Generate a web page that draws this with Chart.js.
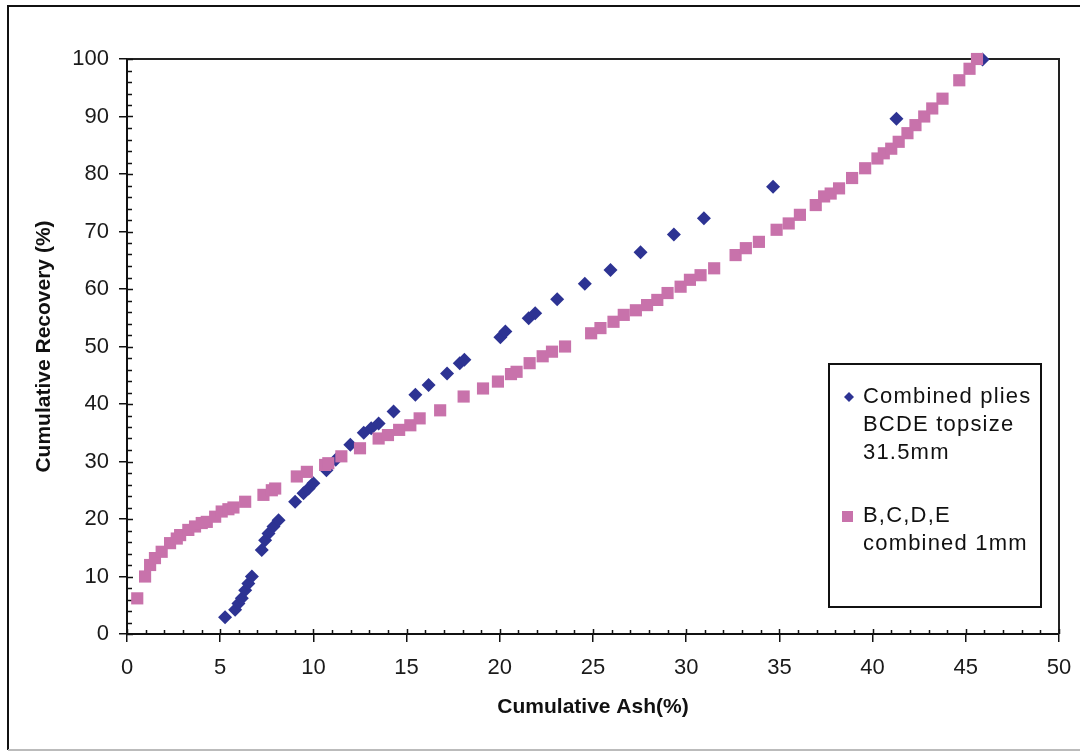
<!DOCTYPE html>
<html>
<head>
<meta charset="utf-8">
<title>Cumulative Recovery vs Cumulative Ash</title>
<script src="https://cdn.jsdelivr.net/npm/chart.js@4.4.1/dist/chart.umd.min.js"></script>
<style>
    html, body { margin: 0; padding: 0; background: #fff; }
    #wrap { width: 1080px; height: 751px; position: relative; }
</style>
</head>
<body>
<div id="wrap"><canvas id="ashChart" width="1080" height="751"></canvas></div>
<script>
// Combined plies BCDE, topsize 31.5mm
const topsizeAsh = [5.26, 5.80, 5.98, 6.16, 6.34, 6.51, 6.70, 7.23, 7.41, 7.59, 7.86, 8.13,
    9.02, 9.47, 9.74, 10.0, 10.7, 11.2, 11.98, 12.7, 13.1, 13.5, 14.3, 15.47, 16.18, 17.17,
    17.85, 18.1, 20.03, 20.3, 21.55, 21.9, 23.08, 24.56, 25.94, 27.55, 29.34, 30.95, 34.66,
    41.28, 45.9];
const topsizeRecovery = [2.9, 4.2, 5.3, 6.2, 7.6, 8.8, 10.0, 14.6, 16.3, 17.5, 18.7, 19.8,
    23.0, 24.5, 25.3, 26.2, 28.5, 30.3, 32.9, 35.0, 35.8, 36.6, 38.7, 41.6, 43.3, 45.3,
    47.1, 47.7, 51.6, 52.6, 54.9, 55.8, 58.2, 60.9, 63.3, 66.4, 69.5, 72.3, 77.8,
    89.6, 99.9];

// B,C,D,E combined, 1mm
const fineAsh = [0.55, 0.97, 1.24, 1.5, 1.86, 2.31, 2.67, 2.85, 3.29, 3.65, 4.01, 4.28,
    4.73, 5.08, 5.44, 5.71, 6.34, 7.32, 7.77, 7.95, 9.11, 9.65, 10.63, 10.8, 11.5, 12.5,
    13.5, 14.0, 14.6, 15.2, 15.7, 16.8, 18.06, 19.1, 19.9, 20.6, 20.9, 21.6, 22.3, 22.8,
    23.5, 24.9, 25.4, 26.1, 26.65, 27.3, 27.9, 28.45, 29.0, 29.7, 30.2, 30.77, 31.5, 32.65,
    33.2, 33.9, 34.85, 35.5, 36.1, 36.95, 37.4, 37.75, 38.2, 38.9, 39.6, 40.26, 40.6, 41.0,
    41.4, 41.87, 42.3, 42.77, 43.2, 43.75, 44.65, 45.2, 45.6];
const fineRecovery = [6.2, 10.0, 12.0, 13.2, 14.3, 15.8, 16.6, 17.2, 18.1, 18.7, 19.3, 19.5,
    20.4, 21.3, 21.7, 22.0, 23.0, 24.2, 25.0, 25.3, 27.4, 28.2, 29.4, 29.7, 30.9, 32.3,
    34.0, 34.6, 35.5, 36.3, 37.5, 38.9, 41.3, 42.7, 43.9, 45.2, 45.6, 47.1, 48.3, 49.1,
    50.0, 52.3, 53.2, 54.3, 55.5, 56.3, 57.2, 58.1, 59.3, 60.4, 61.6, 62.4, 63.6, 65.9,
    67.1, 68.2, 70.3, 71.4, 72.9, 74.6, 76.1, 76.6, 77.5, 79.3, 81.0, 82.7, 83.6, 84.4,
    85.6, 87.1, 88.5, 90.0, 91.4, 93.1, 96.3, 98.3, 100];

const ashTicks = [0, 5, 10, 15, 20, 25, 30, 35, 40, 45, 50];
const recoveryTicks = [0, 10, 20, 30, 40, 50, 60, 70, 80, 90, 100];

const seriesNames = [
    ['Combined plies', 'BCDE topsize', '31.5mm'],
    ['B,C,D,E', 'combined 1mm']
];

const BLUE = '#2D3393';
const PINK = '#C872AB';

function toPoints(xs, ys) {
    return xs.map((x, i) => ({ x: x, y: ys[i] }));
}

// outer frame, plot frame, inside tick marks and the boxed legend
const excelLook = {
    id: 'excelLook',
    beforeDraw(chart) {
        const ctx = chart.ctx;
        ctx.save();
        ctx.fillStyle = '#fff';
        ctx.fillRect(0, 0, chart.width, chart.height);
        ctx.lineWidth = 2;
        ctx.strokeStyle = '#111';
        ctx.beginPath();
        ctx.moveTo(8, 750);
        ctx.lineTo(8, 6);
        ctx.lineTo(chart.width, 6);
        ctx.stroke();
        ctx.strokeStyle = '#bbb';
        ctx.beginPath();
        ctx.moveTo(8, 750);
        ctx.lineTo(chart.width, 750);
        ctx.stroke();
        ctx.restore();
    },
    beforeDatasetsDraw(chart) {
        const ctx = chart.ctx;
        const a = chart.chartArea;
        const xs = chart.scales.x;
        const ys = chart.scales.y;
        ctx.save();
        ctx.strokeStyle = '#222';
        ctx.lineWidth = 2;
        ctx.beginPath();
        ctx.moveTo(a.left, a.top);
        ctx.lineTo(a.right, a.top);
        ctx.lineTo(a.right, a.bottom);
        ctx.stroke();

        ctx.strokeStyle = '#111';
        ctx.lineWidth = 1.5;
        ctx.beginPath();
        for (let v = xs.min; v <= xs.max; v += 1) {
            const px = Math.round(xs.getPixelForValue(v)) + 0.5;
            const len = v % 5 === 0 ? 5 : 4;
            ctx.moveTo(px, a.bottom);
            ctx.lineTo(px, a.bottom - len);
        }
        for (let v = ys.min; v <= ys.max; v += 2) {
            const py = Math.round(ys.getPixelForValue(v)) + 0.5;
            const len = v % 10 === 0 ? 6 : 5;
            ctx.moveTo(a.left, py);
            ctx.lineTo(a.left + len, py);
        }
        ctx.stroke();
        ctx.restore();
    },
    afterDraw(chart) {
        const ctx = chart.ctx;
        const box = { left: 829, top: 364, right: 1041, bottom: 607 };
        ctx.save();
        ctx.fillStyle = '#fff';
        ctx.fillRect(box.left, box.top, box.right - box.left, box.bottom - box.top);
        ctx.strokeStyle = '#111';
        ctx.lineWidth = 2;
        ctx.strokeRect(box.left, box.top, box.right - box.left, box.bottom - box.top);

        ctx.font = '22px "Liberation Sans", Arial, sans-serif';
        ctx.letterSpacing = '1.2px';
        ctx.fillStyle = '#111';
        ctx.textBaseline = 'middle';
        ctx.textAlign = 'left';

        // diamond marker
        const d1 = chart.data.datasets[0];
        ctx.fillStyle = d1.backgroundColor;
        ctx.beginPath();
        ctx.moveTo(849, 392);
        ctx.lineTo(854, 397);
        ctx.lineTo(849, 402);
        ctx.lineTo(844, 397);
        ctx.closePath();
        ctx.fill();
        ctx.fillStyle = '#111';
        seriesNames[0].forEach((line, i) => ctx.fillText(line, 863, 397 + i * 28));

        // square marker
        const d2 = chart.data.datasets[1];
        ctx.fillStyle = d2.backgroundColor;
        ctx.fillRect(842, 511, 11, 11);
        ctx.fillStyle = '#111';
        seriesNames[1].forEach((line, i) => ctx.fillText(line, 863, 516 + i * 28));
        ctx.restore();
    }
};

const tickFont = { family: '"Liberation Sans", Arial, sans-serif', size: 22 };
const titleFont = { family: '"Liberation Sans", Arial, sans-serif', size: 21, weight: 'bold' };

new Chart(document.getElementById('ashChart').getContext('2d'), {
    type: 'scatter',
    data: {
        datasets: [{
            label: seriesNames[0].join(' '),
            data: toPoints(topsizeAsh, topsizeRecovery),
            pointStyle: 'rectRot',
            pointRadius: 7,
            borderWidth: 0,
            backgroundColor: BLUE,
            borderColor: BLUE,
            clip: false,
            order: 2
        }, {
            label: seriesNames[1].join(' '),
            data: toPoints(fineAsh, fineRecovery),
            pointStyle: 'rect',
            pointRadius: 8.6,
            borderWidth: 0,
            backgroundColor: PINK,
            borderColor: PINK,
            clip: false,
            order: 1
        }]
    },
    options: {
        responsive: false,
        animation: false,
        layout: { padding: { left: 0, top: 59, right: 21, bottom: 0 } },
        plugins: {
            legend: { display: false },
            tooltip: { enabled: false }
        },
        scales: {
            x: {
                type: 'linear',
                min: 0,
                max: 50,
                afterBuildTicks: scale => { scale.ticks = ashTicks.map(v => ({ value: v })); },
                afterFit: scale => {
                    scale.height = 117;
                    scale.paddingLeft = 0;
                    scale.paddingRight = 0;
                },
                border: { display: true, color: '#111', width: 2 },
                grid: { drawOnChartArea: false, drawTicks: true, tickLength: 8, color: '#111', lineWidth: 1.5 },
                ticks: { font: tickFont, color: '#1a1a1a', padding: 13, maxRotation: 0 },
                title: {
                    display: true,
                    text: 'Cumulative Ash(%)',
                    font: titleFont,
                    color: '#111',
                    padding: { top: 0, bottom: 31 }
                }
            },
            y: {
                type: 'linear',
                min: 0,
                max: 100,
                afterBuildTicks: scale => { scale.ticks = recoveryTicks.map(v => ({ value: v })); },
                afterFit: scale => {
                    scale.width = 127;
                    scale.paddingTop = 0;
                    scale.paddingBottom = 0;
                },
                border: { display: true, color: '#111', width: 2 },
                grid: { drawOnChartArea: false, drawTicks: true, tickLength: 8, color: '#111', lineWidth: 1.5 },
                ticks: { font: tickFont, color: '#1a1a1a', padding: 10 },
                title: {
                    display: true,
                    text: 'Cumulative Recovery (%)',
                    font: titleFont,
                    color: '#111',
                    padding: { top: 32, bottom: 0 }
                }
            }
        }
    },
    plugins: [excelLook]
});
</script>
</body>
</html>
